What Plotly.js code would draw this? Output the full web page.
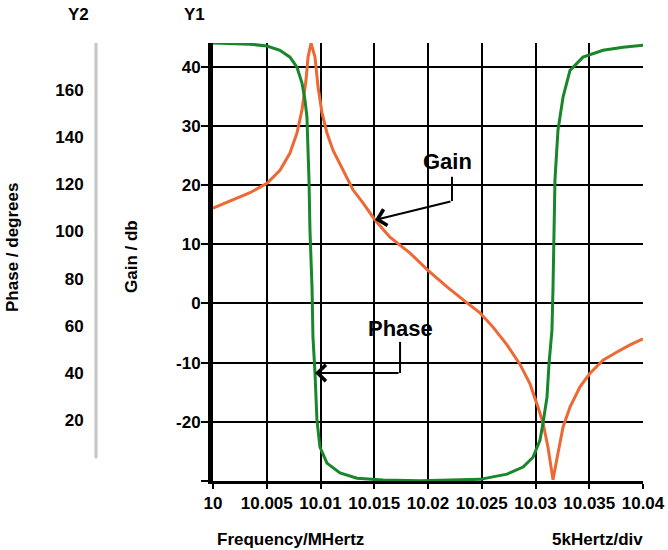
<!DOCTYPE html>
<html>
<head>
<meta charset="utf-8">
<script src="https://cdn.plot.ly/plotly-3.0.1.min.js"></script>
<style>html,body{margin:0;padding:0;background:#fff;}#chart{width:668px;height:550px;}</style>
</head>
<body>
<div id="chart"></div>
<script>
// Frequency in MHz
const gainFreq = [10.00000,10.00186,10.00344,10.00502,10.00623,10.00716,10.00781,10.00828,10.00865,10.00884,10.00912,10.00949,10.00977,10.01014,10.01060,10.01116,10.01209,10.01302,10.01395,10.01507,10.01646,10.01833,10.02000,10.02177,10.02363,10.02484,10.02605,10.02735,10.02856,10.02949,10.03023,10.03070,10.03116,10.03163,10.03209,10.03256,10.03321,10.03414,10.03507,10.03628,10.03758,10.03879,10.04000];
const gainDb = [16.1,17.5,18.7,20.3,22.5,25.4,28.8,32.7,37.7,41.6,44.0,41.6,36.6,32.2,28.8,25.9,22.5,19.2,17.0,14.1,11.2,8.5,5.6,2.8,0.1,-1.6,-4.0,-7.0,-10.3,-13.6,-17.5,-20.2,-24.3,-29.8,-25.3,-20.9,-17.5,-14.1,-11.8,-9.6,-8.2,-7.0,-6.0];

const phaseFreq = [10.00000,10.00186,10.00344,10.00502,10.00623,10.00716,10.00781,10.00828,10.00856,10.00874,10.00884,10.00893,10.00902,10.00912,10.00921,10.00930,10.00949,10.00967,10.00995,10.01060,10.01181,10.01340,10.01581,10.01926,10.02270,10.02484,10.02735,10.02884,10.02977,10.03042,10.03070,10.03107,10.03126,10.03153,10.03163,10.03172,10.03181,10.03209,10.03256,10.03321,10.03442,10.03628,10.03814,10.04000];
const phaseDeg = [180.0,179.8,179.5,178.7,176.9,174.0,169.7,163.0,155.7,148.5,135.8,121.8,100.6,88.0,76.4,55.0,39.9,19.9,8.5,1.7,-2.5,-4.7,-5.5,-5.8,-5.6,-5.2,-3.0,0.0,4.2,11.5,18.7,29.7,44.0,58.0,76.4,104.8,121.8,143.0,157.0,168.4,174.0,176.9,178.2,179.0];

const xTickVals = [10,10.005,10.01,10.015,10.02,10.025,10.03,10.035,10.04];
const xTickText = ['10','10.005','10.01','10.015','10.02','10.025','10.03','10.035','10.04'];
const y1TickVals = [-30,-20,-10,0,10,20,30,40];
const y1TickText = ['','-20','-10','0','10','20','30','40'];
const y2TickVals = [20,40,60,80,100,120,140,160];
const y2TickText = ['20','40','60','80','100','120','140','160'];

const FONT = 'Liberation Sans, Arial, Helvetica, sans-serif';
const bold = (size) => ({family: FONT, size: size, color: '#000', weight: 'bold'});

const W = 668, H = 550, ML = 0, MR = 25, MT = 43, MB = 69;
const plotW = W - ML - MR, plotH = H - MT - MB;
const px = (p) => (p - ML) / plotW;
const py = (p) => (H - MB - p) / plotH;

const traces = [
  {x: gainFreq, y: gainDb, type: 'scatter', mode: 'lines', yaxis: 'y',
   line: {color: '#EE6833', width: 3}, hoverinfo: 'skip'},
  {x: phaseFreq, y: phaseDeg, type: 'scatter', mode: 'lines', yaxis: 'y2',
   line: {color: '#17872A', width: 3}, hoverinfo: 'skip'}
];

const lbl = (text, x, y, extra) => Object.assign({text: text, xref: 'paper', yref: 'paper', x: px(x), y: py(y),
  xanchor: 'center', yanchor: 'middle', showarrow: false, font: bold(17)}, extra || {});

const layout = {
  width: W, height: H,
  margin: {l: ML, r: MR, t: MT, b: MB, pad: 0},
  paper_bgcolor: '#fff', plot_bgcolor: '#fff',
  showlegend: false,
  font: bold(17),
  xaxis: {
    domain: [213 / plotW, 1],
    range: [10, 10.04], tickvals: xTickVals, ticktext: xTickText,
    showgrid: true, gridcolor: '#000', gridwidth: 2,
    zeroline: false, showline: true, linecolor: '#000', linewidth: 3,
    ticks: 'outside', ticklen: 5, tickwidth: 2, tickcolor: '#000',
    tickfont: bold(17), fixedrange: true
  },
  yaxis: {
    range: [-30, 44], tickvals: y1TickVals, ticktext: y1TickText,
    showgrid: true, gridcolor: '#000', gridwidth: 2,
    zeroline: false, showline: true, linecolor: '#000', linewidth: 5,
    ticks: 'outside', ticklen: 7, tickwidth: 2, tickcolor: '#000',
    ticklabelstandoff: -3,
    tickfont: bold(17), fixedrange: true
  },
  yaxis2: {
    overlaying: 'y', side: 'left', anchor: 'free', position: 96 / plotW,
    range: [-5.9, 180], tickvals: y2TickVals, ticktext: y2TickText,
    showgrid: false, zeroline: false, showline: false,
    ticks: 'outside', ticklen: 9, tickcolor: 'rgba(0,0,0,0)',
    tickfont: bold(17), fixedrange: true
  },
  shapes: [
    {type: 'line', xref: 'paper', yref: 'y2', x0: 96 / plotW, x1: 96 / plotW, y0: 3.8, y1: 180.5,
     line: {color: '#c4c4c4', width: 3}},
    {type: 'line', xref: 'x', yref: 'y', x0: 10.02223, x1: 10.02223, y0: 21.4, y1: 17.3,
     line: {color: '#000', width: 2}},
    {type: 'line', xref: 'x', yref: 'y', x0: 10.0174, x1: 10.0174, y0: -6.5, y1: -11.75,
     line: {color: '#000', width: 2}}
  ],
  annotations: [
    lbl('Y2', 78, 15),
    lbl('Y1', 194, 15),
    lbl('Phase / degrees', 13, 248, {textangle: -90}),
    lbl('Gain / db', 131, 257, {textangle: -90}),
    lbl('Frequency/MHertz', 215, 539, {xanchor: 'left'}),
    lbl('5kHertz/div', 645, 539, {xanchor: 'right'}),
    {text: 'Gain', xref: 'x', yref: 'y', x: 10.02186, y: 23.9, xanchor: 'center', yanchor: 'middle', showarrow: false, font: bold(22)},
    {text: 'Phase', xref: 'x', yref: 'y', x: 10.0174, y: -4.15, xanchor: 'center', yanchor: 'middle', showarrow: false, font: bold(22)},
    {text: '', xref: 'x', yref: 'y', x: 10.01507, y: 14.1, axref: 'x', ayref: 'y', ax: 10.02223, ay: 17.3,
     showarrow: true, arrowhead: 4, arrowsize: 1.6, arrowwidth: 2, arrowcolor: '#000', standoff: 0},
    {text: '', xref: 'x', yref: 'y', x: 10.00949, y: -11.75, axref: 'x', ayref: 'y', ax: 10.0174, ay: -11.75,
     showarrow: true, arrowhead: 4, arrowsize: 1.6, arrowwidth: 2, arrowcolor: '#000', standoff: 0}
  ]
};

Plotly.newPlot('chart', traces, layout, {displayModeBar: false, staticPlot: true});
</script>
</body>
</html>
